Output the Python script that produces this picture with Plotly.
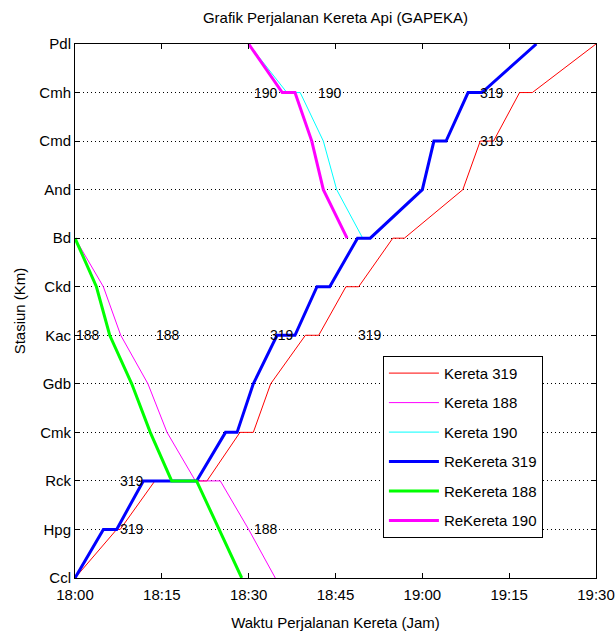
import plotly.graph_objects as go

# Stations (bottom to top)
stations = ["Ccl", "Hpg", "Rck", "Cmk", "Gdb", "Kac", "Ckd", "Bd", "And", "Cmd", "Cmh", "Pdl"]

# Time axis: minutes after 18:00
tick_minutes = [0, 15, 30, 45, 60, 75, 90]
tick_labels = ["18:00", "18:15", "18:30", "18:45", "19:00", "19:15", "19:30"]

# Kereta 319 (original schedule)
k319_time = [0, 7.2, 7.8, 13.8, 22.8, 28.5, 30.8, 33.8, 39.8, 42.1, 46.8, 49.0, 54.9, 56.9, 67.0, 70.0, 72.3, 76.8, 79.0, 90.0]
k319_stn = [0, 1, 1, 2, 2, 3, 3, 4, 5, 5, 6, 6, 7, 7, 8, 9, 9, 10, 10, 11]

# Kereta 188
k188_time = [0, 4.9, 7.9, 12.6, 15.9, 20.8, 25.1, 30.0, 34.6]
k188_stn = [7, 6, 5, 4, 3, 2, 2, 1, 0]

# Kereta 190
k190_time = [30.0, 36.6, 38.9, 42.9, 45.2, 49.7]
k190_stn = [11, 10, 10, 9, 8, 7]

# ReKereta 319 (rescheduled)
r319_time = [0, 4.9, 7.2, 11.8, 21.0, 26.0, 28.0, 30.8, 34.9, 38.0, 41.8, 44.0, 48.8, 51.0, 60.0, 62.0, 64.1, 67.9, 70.3, 79.7]
r319_stn = [0, 1, 1, 2, 2, 3, 3, 4, 5, 5, 6, 6, 7, 7, 8, 9, 9, 10, 10, 11]

# ReKereta 188
r188_time = [0, 3.7, 6.0, 9.8, 13.0, 16.7, 21.0, 24.9, 28.8]
r188_stn = [7, 6, 5, 4, 3, 2, 2, 1, 0]

# ReKereta 190
r190_time = [30.0, 35.8, 38.0, 40.9, 42.9, 47.0]
r190_stn = [11, 10, 10, 9, 8, 7]

# Train number labels
label_text = ["190", "190", "319", "319", "188", "188", "319", "319", "319", "319", "188"]
label_time = [33.0, 44.0, 72.0, 72.0, 2.2, 16.0, 35.8, 51.0, 9.8, 9.8, 33.0]
label_stn = [10, 10, 10, 9, 5, 5, 5, 5, 2, 1, 1]

FONT = "Liberation Sans, Arial, sans-serif"

series = [
    ("Kereta 319", k319_time, k319_stn, "#ff0000", 1),
    ("Kereta 188", k188_time, k188_stn, "#ff00ff", 1),
    ("Kereta 190", k190_time, k190_stn, "#00ffff", 1),
    ("ReKereta 319", r319_time, r319_stn, "#0000ff", 3),
    ("ReKereta 188", r188_time, r188_stn, "#00ff00", 3),
    ("ReKereta 190", r190_time, r190_stn, "#ff00ff", 3),
]

fig = go.Figure()
for name, t, s, color, w in series:
    fig.add_trace(go.Scatter(
        x=t, y=s, mode="lines", name=name, legendgroup=name,
        line=dict(color=color, width=w),
    ))

for txt, t, s in zip(label_text, label_time, label_stn):
    fig.add_annotation(x=t, y=s, text=txt, showarrow=False,
                       xanchor="center", yanchor="middle",
                       font=dict(family=FONT, size=14, color="black"))

W, H = 616, 634
fig.update_layout(
    width=W, height=H,
    margin=dict(l=75, r=20, t=44, b=56),
    paper_bgcolor="white", plot_bgcolor="white",
    font=dict(family=FONT, size=15, color="black"),
    title=dict(text="Grafik Perjalanan Kereta Api (GAPEKA)",
               x=0.5, xref="paper", y=1 - 18 / H, yref="container",
               xanchor="center", yanchor="middle", automargin=False,
               font=dict(family=FONT, size=15, color="black")),
    legend=dict(x=0.591, y=0.416, xanchor="left", yanchor="top",
                bgcolor="white", bordercolor="black", borderwidth=1,
                font=dict(family=FONT, size=15, color="black"),
                tracegroupgap=7, itemwidth=50, traceorder="grouped"),
    showlegend=True,
)

fig.update_xaxes(
    range=[0, 90], tickvals=tick_minutes, ticktext=tick_labels,
    showline=True, linecolor="black", linewidth=1, mirror="allticks",
    ticks="inside", ticklen=5, tickcolor="black", automargin=False,
    ticklabelstandoff=3,
    showgrid=False, zeroline=False,
    tickfont=dict(family=FONT, size=15, color="black"),
    title=dict(text="Waktu Perjalanan Kereta (Jam)", standoff=15,
               font=dict(family=FONT, size=15, color="black")),
)
fig.update_yaxes(
    range=[0, 11], tickvals=list(range(len(stations))), ticktext=stations,
    showline=True, linecolor="black", linewidth=1, mirror="allticks",
    ticks="inside", ticklen=5, tickcolor="black", automargin=False,
    showgrid=True, gridcolor="black", gridwidth=1, griddash="1px,3px",
    zeroline=False,
    tickfont=dict(family=FONT, size=15, color="black"),
    title=dict(text="Stasiun (Km)", standoff=10,
               font=dict(family=FONT, size=15, color="black")),
)

fig.write_html(
    "out.html",
    config={"displayModeBar": False},
    post_script="document.body.style.margin='0px';document.body.style.overflow='hidden';",
)
